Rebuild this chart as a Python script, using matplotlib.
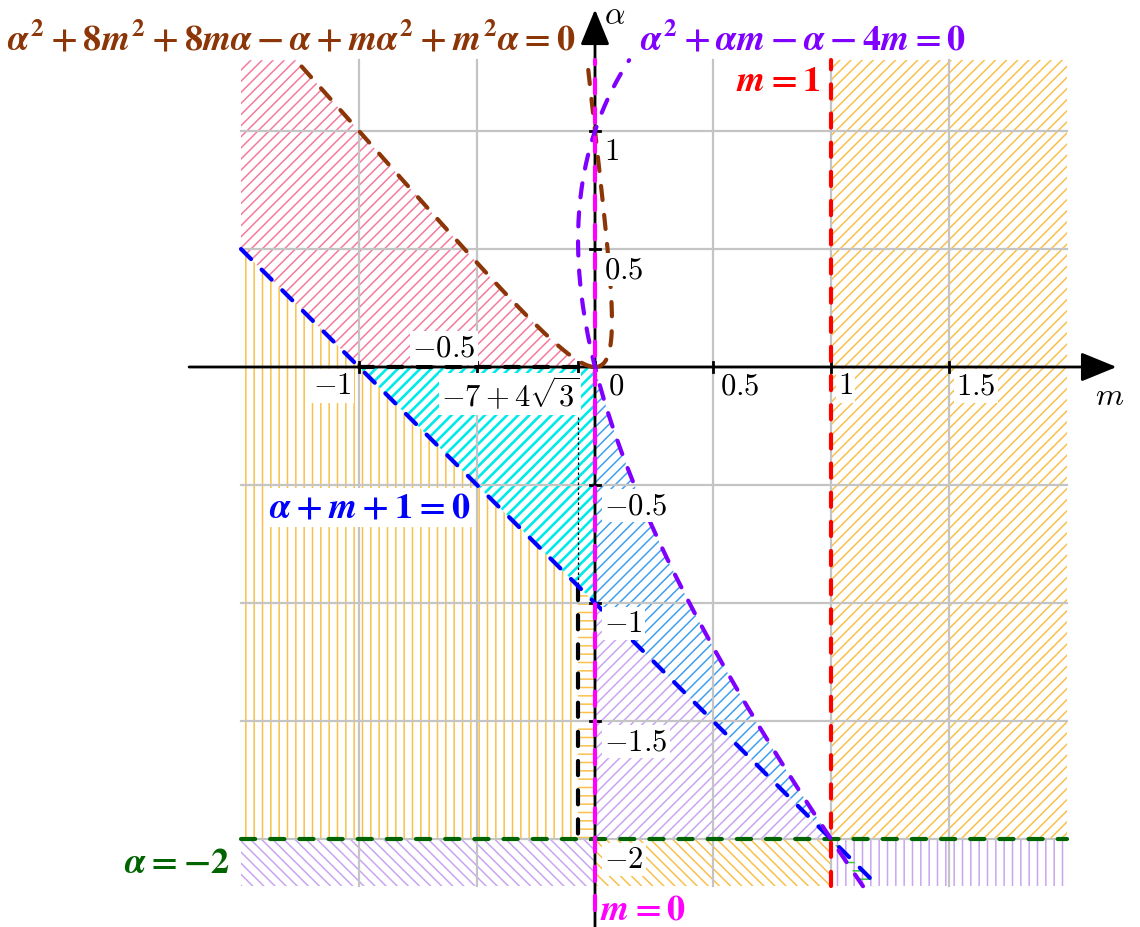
import numpy as np
import matplotlib
matplotlib.use("Agg")
import matplotlib.pyplot as plt

plt.rcParams["mathtext.fontset"] = "cm"
plt.rcParams["mathtext.it"] = "STIXGeneral:italic:bold"
plt.rcParams["mathtext.rm"] = "STIXGeneral:bold"
plt.rcParams["mathtext.bf"] = "STIXGeneral:bold"

# window of the (m, alpha) plane
m_lo, m_hi = -1.5, 2.0
a_lo, a_hi = -2.2, 1.3
m_star = -7 + 4 * np.sqrt(3)

grid_m = [-1, -0.5, 0, 0.5, 1, 1.5]
grid_a = [1, 0.5, 0, -0.5, -1, -1.5, -2]

m_ticks = [-1, -0.5, m_star, 0, 0.5, 1, 1.5]
a_ticks = [1, 0.5, -0.5, -1, -1.5, -2]

# tick labels: (value, text, x, y, ha)
m_tick_labels = [
    (-1, r"$-1$", -1.03, -0.08, "right"),
    (-0.5, r"$-0.5$", -0.64, 0.08, "center"),
    (m_star, r"$-7+4\sqrt{3}$", -0.36, -0.115, "center"),
    (0, r"$0$", 0.055, -0.08, "left"),
    (0.5, r"$0.5$", 0.53, -0.08, "left"),
    (1, r"$1$", 1.03, -0.08, "left"),
    (1.5, r"$1.5$", 1.53, -0.08, "left"),
]
a_tick_labels = [r"$1$", r"$0.5$", r"$-0.5$", r"$-1$", r"$-1.5$", r"$-2$"]


def purple_m(a):
    # alpha^2 + alpha m - alpha - 4m = 0
    return a * (a - 1) / (4 - a)


def brown_m(a, sign):
    # alpha^2 + 8m^2 + 8m alpha - alpha + m alpha^2 + m^2 alpha = 0
    k = a * (8 + a)
    return (-k + sign * (a + 2) * np.sqrt(k)) / (2 * (8 + a))


def blue_a(m):
    return -m - 1


ORANGE = "#f9c04c"
PINK = "#f57a9e"
CYAN = "#00eaea"
SKY = "#3f9ff0"
LAV = "#c9a5f2"
GREEN_H = "#33cc33"

fig = plt.figure(figsize=(11.4, 9.27), dpi=100)
ax = fig.add_axes([0, 0, 1, 1])
ax.set_xlim(-595 / 236, (1140 - 595) / 236)
ax.set_ylim(-(927 - 367) / 236, 367 / 236)
ax.axis("off")


def hatch(xs, ys, color, pattern, hlw=1.1):
    with plt.rc_context({"hatch.linewidth": hlw}):
        polys = ax.fill(xs, ys, facecolor="none", edgecolor=color,
                        hatch=pattern, lw=0, zorder=1)
    for p in polys:
        if hasattr(p, "set_hatch_linewidth"):
            p.set_hatch_linewidth(hlw)


# regions
a_br = a_hi * np.linspace(0, 1, 300) ** 2
outer = brown_m(a_br, -1)
inner = brown_m(a_br, 1)

hatch([m_lo, m_lo] + list(outer[::-1]) + [-1],
      [blue_a(m_lo), a_hi] + list(a_br[::-1]) + [0], PINK, "///")
hatch([m_lo, m_star, m_star, m_lo],
      [blue_a(m_lo), blue_a(m_star), -2, -2], ORANGE, "||")
hatch([-1, 0, 0], [0, 0, -1], CYAN, "///", 1.9)
hatch([m_star, 0, 0, m_star], [blue_a(m_star), -1, -2, -2], ORANGE, "--")
a_pu = np.linspace(0, -2, 200)
hatch(list(purple_m(a_pu)) + [0], list(a_pu) + [-1], SKY, "///")
hatch([0, 1, 0], [-1, -2, -2], LAV, "///")
hatch([1, m_hi, m_hi, 1], [-2, -2, a_hi, a_hi], ORANGE, "///")
hatch([m_lo, 0, 0, m_lo], [-2, -2, a_lo, a_lo], LAV, "\\\\\\")
hatch([0, 1, 1, 0], [-2, -2, a_lo, a_lo], ORANGE, "\\\\\\")
hatch([1, m_hi, m_hi, 1], [-2, -2, a_lo, a_lo], LAV, "||")
a_tail = np.linspace(-2, a_lo, 30)
hatch(list(purple_m(a_tail)) + [-a_lo - 1], list(a_tail) + [a_lo], GREEN_H, "--")

# grid
for g in grid_m:
    ax.plot([g, g], [a_lo, a_hi], color="#c4c4c4", lw=1.6, zorder=2)
for g in grid_a:
    ax.plot([m_lo, m_hi], [g, g], color="#c4c4c4", lw=1.6, zorder=2)

# axes with arrows
ax.annotate("", xy=(2.21, 0), xytext=(-1.72, 0),
            arrowprops=dict(arrowstyle="-|>,head_length=1.1,head_width=0.45",
                            color="k", lw=2, mutation_scale=20,
                            shrinkA=0, shrinkB=0), zorder=3)
ax.annotate("", xy=(0, 1.515), xytext=(0, -2.4),
            arrowprops=dict(arrowstyle="-|>,head_length=1.1,head_width=0.45",
                            color="k", lw=2, mutation_scale=20,
                            shrinkA=0, shrinkB=0), zorder=3)
for t in m_ticks:
    ax.plot([t, t], [-0.022, 0.022], color="k", lw=2, zorder=3)
for t in a_ticks:
    ax.plot([-0.022, 0.022], [t, t], color="k", lw=2, zorder=3)

dash = dict(lw=3, dashes=(3.4, 3.6), dash_capstyle="round", zorder=4)

# curves
ax.plot([-1, 0], [0, 0], color="k", **dash)
ax.plot([m_star, m_star], [blue_a(m_star), -2], color="k", **dash)
ax.plot([m_star, m_star], [0, blue_a(m_star)], color="k", lw=0.9,
        dashes=(2, 2), zorder=4)
ax.plot([m_lo, m_hi], [-2, -2], color="#006400", **dash)
m_bl = np.array([m_lo, 1.2])
ax.plot(m_bl, blue_a(m_bl), color="#0000ff", **dash)
ax.plot(outer, a_br, color="#8c3608", **dash)
ax.plot(inner, a_br, color="#8c3608", **dash)
a_pp = np.linspace(a_lo, a_hi, 400)
ax.plot(purple_m(a_pp), a_pp, color="#7f00ff", **dash)
ax.plot([1, 1], [a_lo, a_hi], color="#ff0000", **dash)
ax.plot([0, 0], [-2.3, a_hi], color="#ff00ff", **dash)

# tick labels
box = dict(facecolor="white", edgecolor="none", pad=1.5)
for t, txt, x, y, ha in m_tick_labels:
    ax.text(x, y, txt, fontsize=22, ha=ha, va="center", bbox=box, zorder=5)
for t, txt in zip(a_ticks, a_tick_labels):
    ax.text(0.04, t - 0.088, txt, fontsize=22, ha="left", va="center",
            bbox=box, zorder=5)

ax.text(0.085, 1.49, r"$\alpha$", fontsize=23, ha="center", va="center", zorder=5)
ax.text(2.18, -0.125, r"$m$", fontsize=23, ha="center", va="center", zorder=5)

# equation labels
eq = dict(fontsize=26, math_fontfamily="custom", zorder=6)
ax.text(-1.285, 1.39, r"$\alpha^2+8m^2+8m\alpha-\alpha+m\alpha^2+m^2\alpha=0$",
        color="#8c3608", ha="center", va="center", **eq)
ax.text(0.88, 1.39, r"$\alpha^2+\alpha m-\alpha-4m=0$",
        color="#7f00ff", ha="center", va="center", **eq)
ax.text(0.955, 1.21, r"$m=1$", color="#ff0000", ha="right", va="center", **eq)
ax.text(-0.955, -0.595, r"$\alpha+m+1=0$", color="#0000ff", ha="center",
        va="center", bbox=box, **eq)
ax.text(-1.548, -2.1, r"$\alpha=-2$", color="#006400", ha="right",
        va="center", **eq)
ax.text(0.02, -2.3, r"$m=0$", color="#ff00ff", ha="left", va="center", **eq)

fig.savefig("out.png", dpi=100)
